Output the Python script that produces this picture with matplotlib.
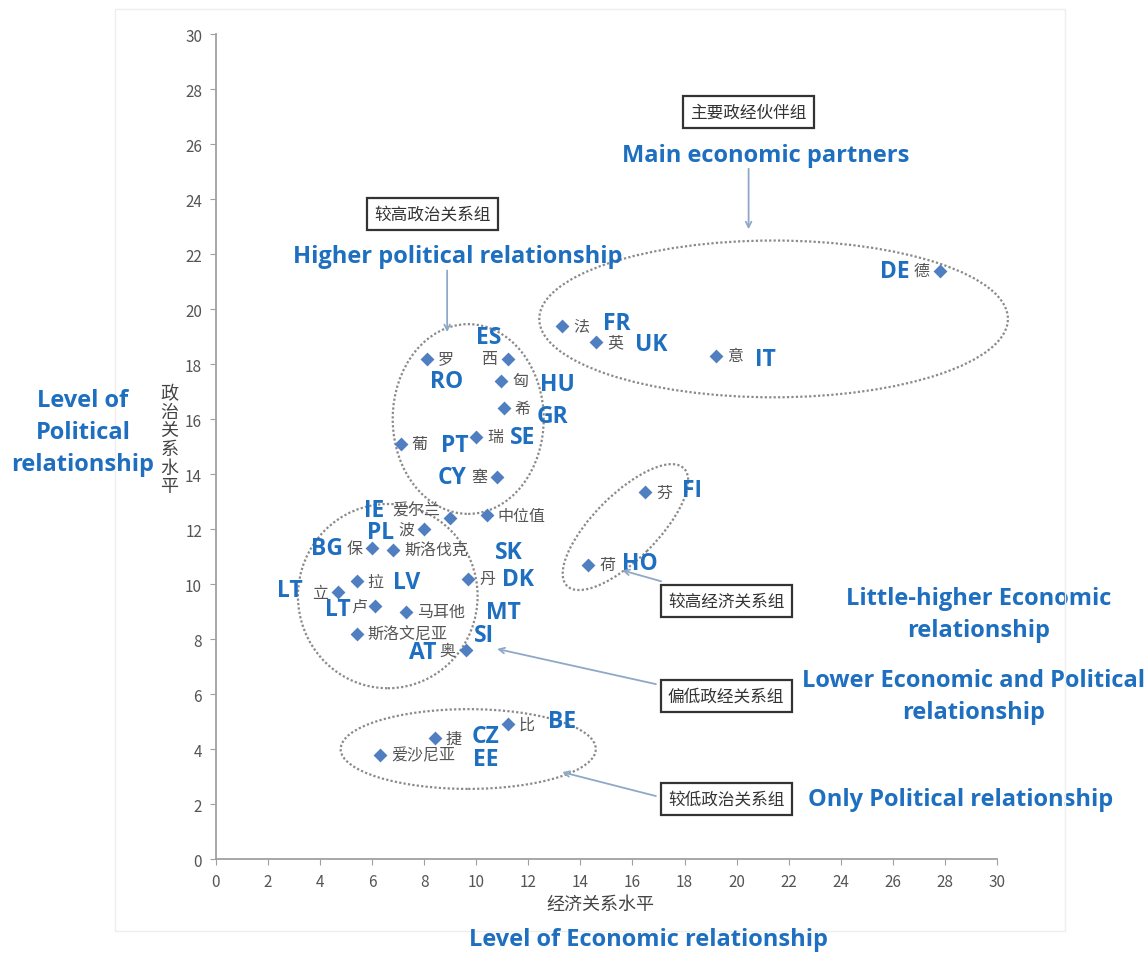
import matplotlib
matplotlib.use("Agg")
import matplotlib.pyplot as plt
from matplotlib.patches import Ellipse, Rectangle

plt.rcParams['font.family'] = ['Noto Sans CJK SC', 'DejaVu Sans']

# data: country code, chinese name, economic level (x), political level (y)
codes = ["DE", "FR", "UK", "IT",
         "RO", "ES", "HU", "GR", "SE", "PT", "CY",
         "IE", "", "PL", "BG", "SK", "LV", "LT", "DK", "LT", "MT", "SI", "AT",
         "FI", "HO",
         "BE", "CZ", "EE"]
cn_names = ["德", "法", "英", "意",
            "罗", "西", "匈", "希", "瑞", "葡", "塞",
            "爱尔兰", "中位值", "波", "保", "斯洛伐克", "拉", "立", "丹", "卢", "马耳他", "斯洛文尼亚", "奥",
            "芬", "荷",
            "比", "捷", "爱沙尼亚"]
econ = [27.8, 13.3, 14.6, 19.2,
        8.1, 11.2, 10.95, 11.05, 10.0, 7.1, 10.8,
        9.0, 10.4, 8.0, 6.0, 6.8, 5.4, 4.7, 9.7, 6.1, 7.3, 5.4, 9.6,
        16.5, 14.3,
        11.2, 8.4, 6.3]
polit = [21.4, 19.4, 18.8, 18.3,
         18.2, 18.2, 17.4, 16.4, 15.35, 15.1, 13.9,
         12.4, 12.5, 12.0, 11.3, 11.25, 10.1, 9.7, 10.2, 9.2, 9.0, 8.2, 7.6,
         13.35, 10.7,
         4.9, 4.4, 3.8]

# label layout (pixel offsets from the marker), kept apart from the data
cn_side = ["L", "R", "R", "R",
           "R", "L", "R", "R", "R", "R", "L",
           "L", "R", "L", "L", "R", "R", "L", "R", "L", "R", "R", "L",
           "R", "R",
           "R", "R", "R"]
code_off = [(-45, 0), (55, 3), (55, -2), (50, -3),
            (20, -22), (-19, 22), (56, -3), (49, -8), (46, 0), (54, -1), (-45, 0),
            (-76, 8), (0, 0), (-44, -3), (-45, 0), (116, -2), (50, -1), (-48, 2), (50, 0), (-37, -3), (97, 0), (127, -1), (-43, -2),
            (47, 2), (52, 2),
            (55, 3), (51, 2), (106, -4)]

blue = '#1f6fc0'
cn_gray = '#555555'
en_font = ['Open Sans', 'DejaVu Sans']

fig = plt.figure(figsize=(11.45, 9.54), dpi=100)
ax = fig.add_axes([0.1886, 0.0985, 0.6821, 0.8648])

ax.scatter(econ, polit, marker='D', s=50, color='#4f7fc0', zorder=3, linewidths=0)

for i in range(len(codes)):
    if cn_side[i] == "R":
        ax.annotate(cn_names[i], (econ[i], polit[i]), xytext=(11, 0), textcoords='offset pixels',
                    ha='left', va='center', fontsize=11.5, color=cn_gray)
    else:
        off_y = 8 if cn_names[i] == "爱尔兰" else 0
        off_x = -7 if cn_names[i] == "卢" else -10
        ax.annotate(cn_names[i], (econ[i], polit[i]), xytext=(off_x, off_y), textcoords='offset pixels',
                    ha='right', va='center', fontsize=11.5, color=cn_gray)
    if codes[i]:
        ax.annotate(codes[i], (econ[i], polit[i]), xytext=code_off[i], textcoords='offset pixels',
                    ha='center', va='center', fontsize=16.5, fontweight='bold', color=blue,
                    family=en_font)

# group outlines
ell_style = dict(fill=False, edgecolor='#8a8a8a', linestyle=(0, (1, 1)), linewidth=1.6,
                 zorder=2, clip_on=False)
ax.add_patch(Ellipse((21.42, 19.64), 18.0, 5.7, **ell_style))
ax.add_patch(Ellipse((9.69, 16.0), 5.8, 6.9, **ell_style))
ax.add_patch(Ellipse((6.6, 9.56), 6.9, 6.7, **ell_style))
ax.add_patch(Ellipse((15.73, 12.07), 6.2, 2.4, angle=43, **ell_style))
ax.add_patch(Ellipse((9.69, 4.0), 9.8, 2.9, **ell_style))

# group boxes, arrows and english captions
box = dict(boxstyle='square,pad=0.45', facecolor='white', edgecolor='#333333', linewidth=1.6)
arrow = dict(arrowstyle='->', color='#8fa8c8', lw=1.3, shrinkA=0, shrinkB=0)
box_fs = 12
cap_fs = 17

ax.text(20.46, 27.16, "主要政经伙伴组", ha='center', va='center', fontsize=box_fs, color='#333', bbox=box)
ax.annotate("", xy=(20.46, 22.9), xytext=(20.46, 25.1), arrowprops=arrow)
ax.text(21.1, 25.6, "Main economic partners", ha='center', va='center', fontsize=cap_fs,
        fontweight='bold', color=blue, family=en_font)

ax.text(8.31, 23.45, "较高政治关系组", ha='center', va='center', fontsize=box_fs, color='#333', bbox=box)
ax.annotate("", xy=(8.88, 19.16), xytext=(8.88, 21.4), arrowprops=arrow)
ax.text(9.27, 21.93, "Higher political relationship", ha='center', va='center', fontsize=cap_fs,
        fontweight='bold', color=blue, family=en_font)

ax.text(19.6, 9.38, "较高经济关系组", ha='center', va='center', fontsize=box_fs, color='#333', bbox=box)
ax.annotate("", xy=(15.6, 10.5), xytext=(17.1, 10.1), arrowprops=arrow)
ax.text(29.3, 8.9, "Little-higher Economic\nrelationship", ha='center', va='center', fontsize=cap_fs,
        fontweight='bold', color=blue, family=en_font, linespacing=1.45, clip_on=False)

ax.text(19.6, 5.93, "偏低政经关系组", ha='center', va='center', fontsize=box_fs, color='#333', bbox=box)
ax.annotate("", xy=(10.8, 7.64), xytext=(16.9, 6.36), arrowprops=arrow)
ax.text(29.1, 5.93, "Lower Economic and Political\nrelationship", ha='center', va='center', fontsize=cap_fs,
        fontweight='bold', color=blue, family=en_font, linespacing=1.45, clip_on=False)

ax.text(19.6, 2.18, "较低政治关系组", ha='center', va='center', fontsize=box_fs, color='#333', bbox=box)
ax.annotate("", xy=(13.3, 3.16), xytext=(16.9, 2.29), arrowprops=arrow)
ax.text(28.6, 2.18, "Only Political relationship", ha='center', va='center', fontsize=cap_fs,
        fontweight='bold', color=blue, family=en_font, clip_on=False)

# axes styling
ax.set_xlim(0, 30)
ax.set_ylim(0, 30)
ax.set_xticks(range(0, 31, 2))
ax.set_yticks(range(0, 31, 2))
for side in ['top', 'right']:
    ax.spines[side].set_visible(False)
for side in ['left', 'bottom']:
    ax.spines[side].set_color('#a0a0a0')
    ax.spines[side].set_linewidth(1.3)
ax.tick_params(colors='#a0a0a0', labelcolor='#555555', labelsize=11, length=4, pad=6)

fig.text(0.524, 0.0514, "经济关系水平", ha='center', va='center', fontsize=13, color='#444')
fig.text(0.148, 0.538, "\n".join("政治关系水平"), ha='center', va='center', fontsize=13,
         color='#444', linespacing=1.04)
fig.text(0.566, 0.0147, "Level of Economic relationship", ha='center', va='center', fontsize=cap_fs,
         fontweight='bold', color=blue, family=en_font)
fig.text(0.0725, 0.546, "Level of\nPolitical\nrelationship", ha='center', va='center', fontsize=cap_fs,
         fontweight='bold', color=blue, family=en_font, linespacing=1.45)

# faint frame of the source image
fig.add_artist(Rectangle((0.1, 0.023), 0.83, 0.967, transform=fig.transFigure,
                         fill=False, edgecolor='#eeeeee', linewidth=1))

fig.savefig("out.png", dpi=100)
